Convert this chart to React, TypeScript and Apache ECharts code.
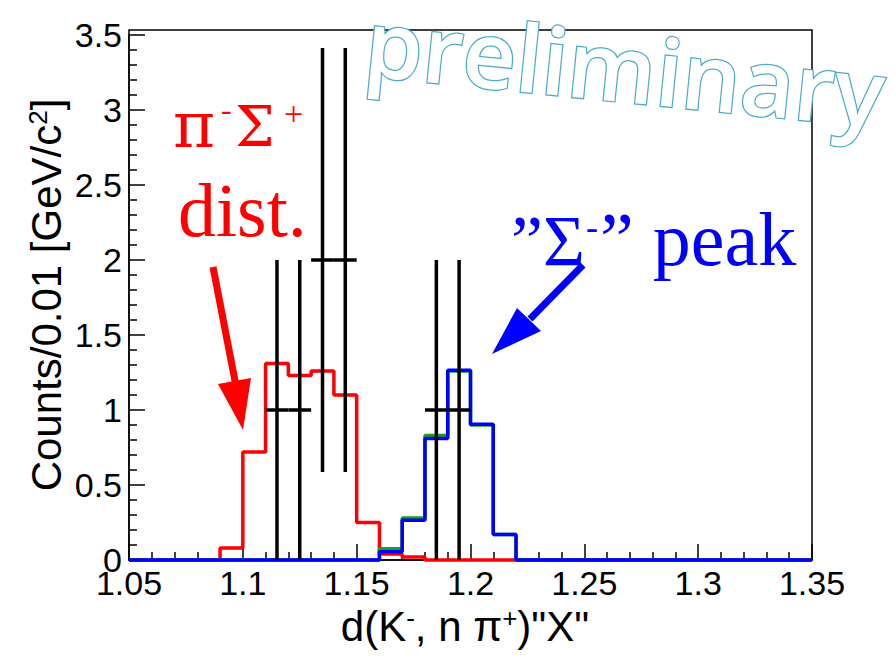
import React, { useEffect, useRef } from "react";
import * as echarts from "echarts";

// bin edges (width 0.01)
const binEdges = [
  1.05, 1.06, 1.07, 1.08, 1.09, 1.10, 1.11, 1.12, 1.13, 1.14, 1.15,
  1.16, 1.17, 1.18, 1.19, 1.20, 1.21, 1.22, 1.23, 1.24, 1.25,
  1.26, 1.27, 1.28, 1.29, 1.30, 1.31, 1.32, 1.33, 1.34, 1.35,
];
// pi- Sigma+ distribution (red)
const redCounts = [
  0, 0, 0, 0, 0.08, 0.72, 1.31, 1.23, 1.26, 1.10,
  0.25, 0.04, 0.02, 0, 0, 0, 0, 0, 0, 0,
  0, 0, 0, 0, 0, 0, 0, 0, 0, 0,
];
// green histogram
const greenCounts = [
  0, 0, 0, 0, 0, 0, 0, 0, 0, 0,
  0, 0.075, 0.28, 0.83, 1.26, 0.9, 0.17, 0, 0, 0,
  0, 0, 0, 0, 0, 0, 0, 0, 0, 0,
];
// "Sigma-" peak (blue)
const blueCounts = [
  0, 0, 0, 0, 0, 0, 0, 0, 0, 0,
  0, 0.055, 0.265, 0.81, 1.265, 0.905, 0.17, 0, 0, 0,
  0, 0, 0, 0, 0, 0, 0, 0, 0, 0,
];
// data points with errors
const dataX = [1.115, 1.125, 1.135, 1.145, 1.185, 1.195];
const dataY = [1, 1, 2, 2, 1, 1];
const dataErr = [1, 1, 1.414, 1.414, 1, 1];
const binHalfWidth = 0.005;

const xTicks = { min: 1.05, max: 1.35, interval: 0.05 };
const yTicks = { min: 0, max: 3.5, interval: 0.5 };

function toStep(counts: number[]) {
  const pts: number[][] = counts.map((v, i) => [binEdges[i], v]);
  pts.push([binEdges[binEdges.length - 1], counts[counts.length - 1]]);
  return pts;
}

const SANS = "'Liberation Sans', Arial, Helvetica, sans-serif";
const SERIF = "'Liberation Serif', 'Times New Roman', serif";
const GREEK = "'DejaVu Serif', 'Liberation Serif', serif";

export default function App() {
  const ref = useRef<HTMLDivElement>(null);
  useEffect(() => {
    document.body.style.margin = "0";
    const chart = echarts.init(ref.current!, undefined, { renderer: "svg" });
    const axisCommon = {
      type: "value" as const,
      splitLine: { show: false },
      axisLine: { show: true, lineStyle: { color: "#000", width: 1.5 } },
      axisTick: { show: true, inside: true, length: 16, lineStyle: { color: "#000", width: 1.5 } },
      minorTick: { show: true, splitNumber: 5, length: 8, lineStyle: { color: "#000", width: 1.5 } },
      axisLabel: { color: "#000", fontSize: 34, fontFamily: SANS },
    };
    const histLine = (name: string, counts: number[], color: string, z: number) => ({
      type: "line" as const,
      name,
      data: toStep(counts),
      step: "end" as const,
      showSymbol: false,
      symbol: "none",
      clip: false,
      z,
      lineStyle: { color, width: 3.5 },
    });
    chart.setOption({
      animation: false,
      backgroundColor: "#fff",
      grid: { left: 129, right: 83, top: 35, bottom: 96, containLabel: false },
      xAxis: {
        ...axisCommon,
        min: xTicks.min,
        max: xTicks.max,
        interval: xTicks.interval,
        axisLabel: { ...axisCommon.axisLabel, margin: 6 },
      },
      yAxis: {
        ...axisCommon,
        min: yTicks.min,
        max: yTicks.max,
        interval: yTicks.interval,
        axisLabel: { ...axisCommon.axisLabel, margin: 7 },
      },
      series: [
        histLine("pi-Sigma+", redCounts, "#ff0000", 3),
        histLine("green", greenCounts, "#16a016", 4),
        histLine("Sigma-", blueCounts, "#0000ff", 5),
        {
          type: "custom",
          name: "data",
          z: 6,
          clip: false,
          data: dataX.map((x, i) => [x, dataY[i], dataErr[i]]),
          encode: { x: 0, y: 1 },
          renderItem: (params: any, api: any) => {
            const x = api.value(0);
            const y = api.value(1);
            const e = api.value(2);
            const lo = api.coord([x, Math.max(0, y - e)]);
            const hi = api.coord([x, y + e]);
            const l = api.coord([x - binHalfWidth, y]);
            const r = api.coord([x + binHalfWidth, y]);
            const st = { stroke: "#000", lineWidth: 3.5 };
            return {
              type: "group",
              children: [
                { type: "line", shape: { x1: lo[0], y1: lo[1], x2: hi[0], y2: hi[1] }, style: st },
                { type: "line", shape: { x1: l[0], y1: l[1], x2: r[0], y2: r[1] }, style: st },
              ],
            };
          },
        },
      ],
      graphic: [
        // frame
        {
          type: "rect",
          z: 1,
          silent: true,
          shape: { x: 129, y: 30, width: 683, height: 530 },
          style: { fill: "none", stroke: "#000", lineWidth: 1.5 },
        },
        // axis titles
        {
          type: "text",
          z: 10,
          x: 46,
          y: 295,
          rotation: Math.PI / 2,
          style: {
            text: "{a|Counts/0.01 [GeV/c}{s|2}{a|]}",
            align: "center",
            verticalAlign: "middle",
            fill: "#000",
            rich: {
              a: { fontSize: 42, fontFamily: SANS, fill: "#000" },
              s: { fontSize: 26, fontFamily: SANS, fill: "#000", verticalAlign: "top" },
            },
          },
        },
        {
          type: "text",
          z: 10,
          x: 465,
          y: 626,
          style: {
            text: "{a|d(K}{s|-}{a|, n π}{s|+}{a|)\"X\"}",
            align: "center",
            verticalAlign: "middle",
            fill: "#000",
            rich: {
              a: { fontSize: 42, fontFamily: SANS, fill: "#000" },
              s: { fontSize: 26, fontFamily: SANS, fill: "#000", verticalAlign: "top" },
            },
          },
        },
        // red annotation
        { type: "text", z: 10, x: 173, y: 125, style: { text: "π", font: `64px ${GREEK}`, fill: "#ff0000", verticalAlign: "middle" } },
        { type: "text", z: 10, x: 221, y: 109, style: { text: "-", font: `32px ${SERIF}`, fill: "#ff0000", verticalAlign: "middle" } },
        { type: "text", z: 10, x: 235, y: 126, style: { text: "Σ", font: `56px ${GREEK}`, fill: "#ff0000", verticalAlign: "middle" } },
        { type: "text", z: 10, x: 284, y: 113, style: { text: "+", font: `34px ${SERIF}`, fill: "#ff0000", verticalAlign: "middle" } },
        { type: "text", z: 10, x: 178, y: 210, style: { text: "dist.", font: `76px ${SERIF}`, fill: "#ff0000", verticalAlign: "middle" } },
        // red arrow
        { type: "line", z: 10, shape: { x1: 213, y1: 267, x2: 236, y2: 386 }, style: { stroke: "#ff0000", lineWidth: 7 } },
        { type: "polygon", z: 10, shape: { points: [[218, 384], [251, 378], [243, 430]] }, style: { fill: "#ff0000" } },
        // blue annotation
        { type: "text", z: 10, x: 511, y: 241, style: { text: "”Σ", font: `72px ${SERIF}`, fill: "#0000ff", verticalAlign: "middle" } },
        { type: "text", z: 10, x: 586, y: 227, style: { text: "-", font: `36px ${SERIF}`, fill: "#0000ff", verticalAlign: "middle" } },
        { type: "text", z: 10, x: 600, y: 239, style: { text: "” peak", font: `76px ${SERIF}`, fill: "#0000ff", verticalAlign: "middle" } },
        // blue arrow
        { type: "line", z: 10, shape: { x1: 583, y1: 265, x2: 530, y2: 319 }, style: { stroke: "#0000ff", lineWidth: 7 } },
        { type: "polygon", z: 10, shape: { points: [[517, 308], [541, 331], [492, 354]] }, style: { fill: "#0000ff" } },
        // preliminary watermark
        {
          type: "text",
          z: 20,
          x: 366,
          y: 40,
          rotation: -0.1,
          style: {
            text: "preliminary",
            fontFamily: "'Open Sans', 'Noto Sans', sans-serif",
            fontSize: 93,
            fontStyle: "normal",
            fontWeight: 600,
            fill: "#ffffff",
            stroke: "#4bacc6",
            lineWidth: 2.5,
            verticalAlign: "middle",
          },
        },
      ],
    });
    return () => chart.dispose();
  }, []);
  return <div ref={ref} style={{ width: 895, height: 656 }} />;
}
